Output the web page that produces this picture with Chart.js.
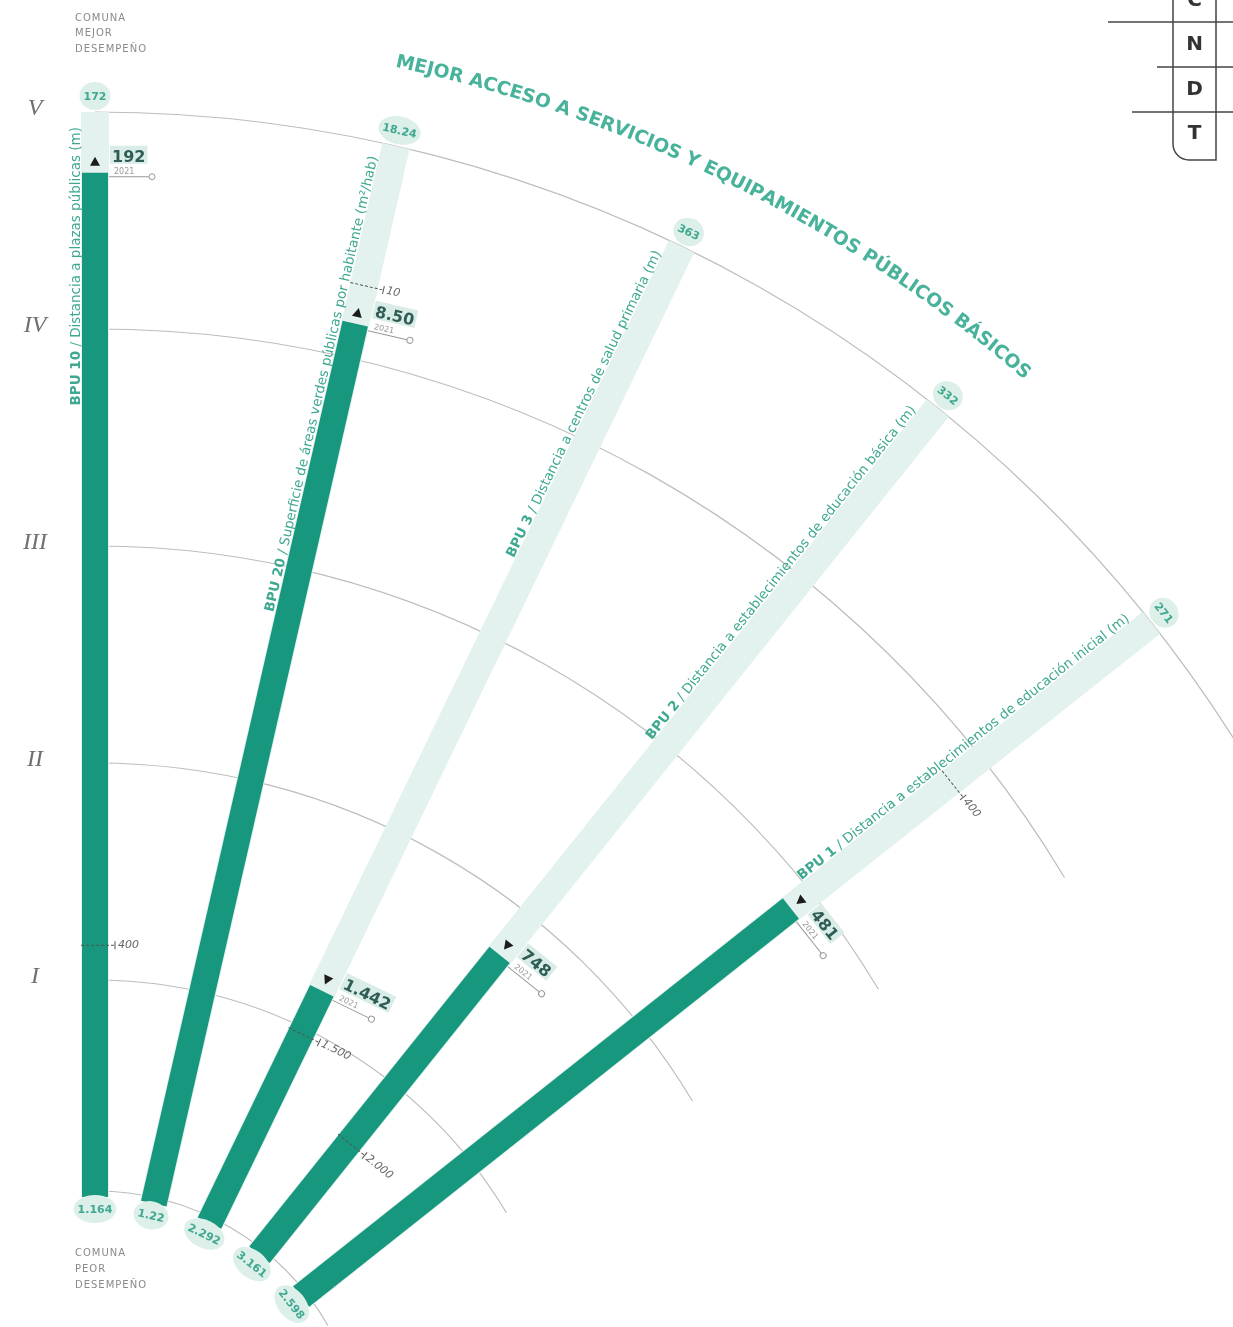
<!DOCTYPE html>
<html>
<head>
<meta charset="utf-8">
<script src="https://cdn.jsdelivr.net/npm/chart.js@4.4.0/dist/chart.umd.min.js"></script>
<style>
  html, body { margin: 0; padding: 0; background: #fff; }
  #wrap { width: 1233px; height: 1327px; position: relative; }
</style>
</head>
<body>
<div id="wrap"><canvas id="fan"></canvas></div>
<script>
// Indicators, from the vertical bar going clockwise
const codes = ['BPU 10', 'BPU 20', 'BPU 3', 'BPU 2', 'BPU 1'];
const names = [
    'Distancia a plazas públicas (m)',
    'Superficie de áreas verdes públicas por habitante (m²/hab)',
    'Distancia a centros de salud primaria (m)',
    'Distancia a establecimientos de educación básica (m)',
    'Distancia a establecimientos de educación inicial (m)'
];
const bestValues = ['172', '18.24', '363', '332', '271'];      // comuna mejor desempeño
const worstValues = ['1.164', '1.22', '2.292', '3.161', '2.598']; // comuna peor desempeño
const values2021 = ['192', '8.50', '1.442', '748', '481'];
const scores2021 = [4.72, 4.16, 1.19, 1.77, 2.88];   // position on the I..V scale (0 = worst, 5 = best)
const trend = ['up', 'up', 'down', 'down', 'down'];
const tickLabels = ['400', '10', '1.500', '2.000', '400'];
const tickScores = [1.16, 4.34, 0.97, 0.66, 3.82];
const levelLabels = ['I', 'II', 'III', 'IV', 'V'];
const legendLetters = ['C', 'N', 'D', 'T'];
const title = 'MEJOR ACCESO A SERVICIOS Y EQUIPAMIENTOS PÚBLICOS BÁSICOS';

// fan geometry (units = px, centre of the fan below the page)
const R_BASE = 263;
const R_STEP = 217;
const LEVELS = 5;
const A_START = 90;
const A_STEP = 12.9;
const A_END = 31;

const TEAL = '#17977d';
const TRACK = '#e3f2ee';
const LABEL = '#3fa891';

const angleOf = i => A_START - i * A_STEP;
const radiusOf = s => R_BASE + s * R_STEP;

function polar(s, i, extra = 0) {
    const a = angleOf(i) * Math.PI / 180;
    const r = radiusOf(s) + extra;
    return { x: r * Math.cos(a), y: r * Math.sin(a) };
}

function toPx(chart, p) {
    return { x: chart.scales.x.getPixelForValue(p.x), y: chart.scales.y.getPixelForValue(p.y) };
}

function inFrame(ctx, pt, rotDeg, fn) {
    ctx.save();
    ctx.translate(pt.x, pt.y);
    ctx.rotate(rotDeg * Math.PI / 180);
    fn();
    ctx.restore();
}

function blob(ctx, text, font, color) {
    ctx.font = font;
    const w = ctx.measureText(text).width;
    ctx.fillStyle = '#dcefe9';
    ctx.beginPath();
    ctx.ellipse(0, 0, Math.max(15, w / 2 + 4), 14, 0, 0, Math.PI * 2);
    ctx.fill();
    ctx.fillStyle = color;
    ctx.textAlign = 'center';
    ctx.textBaseline = 'middle';
    ctx.fillText(text, 0, 1);
}

const fanPlugin = {
    id: 'fan',
    beforeDatasetsDraw(chart) {
        const ctx = chart.ctx;
        const c = toPx(chart, { x: 0, y: 0 });
        const px = r => chart.scales.x.getPixelForValue(r) - chart.scales.x.getPixelForValue(0);
        ctx.save();
        ctx.strokeStyle = '#bdbdbd';
        ctx.lineWidth = 1.2;
        // level arcs I..V
        for (let k = 1; k <= LEVELS; k++) {
            ctx.beginPath();
            ctx.arc(c.x, c.y, px(radiusOf(k)), -Math.PI / 2, -A_END * Math.PI / 180);
            ctx.stroke();
        }
        // base arc (worst)
        ctx.beginPath();
        ctx.arc(c.x, c.y, px(R_BASE + 6), -Math.PI / 2, -30 * Math.PI / 180);
        ctx.stroke();

        // roman numerals
        ctx.fillStyle = '#707070';
        ctx.font = 'italic 24px "Liberation Serif"';
        ctx.textAlign = 'center';
        ctx.textBaseline = 'middle';
        levelLabels.forEach((t, k) => {
            const p = toPx(chart, polar(k + 1, 0));
            ctx.fillText(t, p.x - 60, p.y - 3);
        });
        ctx.restore();
    },
    afterDatasetsDraw(chart) {
        const ctx = chart.ctx;
        ctx.save();

        codes.forEach((code, i) => {
            const th = angleOf(i);

            // indicator name along the bar
            inFrame(ctx, toPx(chart, polar(LEVELS, i)), -th, () => {
                ctx.textBaseline = 'middle';
                ctx.textAlign = 'right';
                ctx.fillStyle = LABEL;
                ctx.font = '13.5px "DejaVu Sans"';
                const rest = ' / ' + names[i];
                const wRest = ctx.measureText(rest).width;
                ctx.fillText(rest, -15, -19);
                ctx.font = 'bold 13.5px "DejaVu Sans"';
                ctx.fillText(code, -15 - wRest, -19);
            });

            // best value on top, worst value at the base
            inFrame(ctx, toPx(chart, polar(LEVELS, i, 16)), 90 - th, () => {
                blob(ctx, bestValues[i], 'bold 11px "DejaVu Sans"', LABEL);
            });
            inFrame(ctx, toPx(chart, polar(0, i, -12)), 90 - th, () => {
                blob(ctx, worstValues[i], 'bold 11px "DejaVu Sans"', LABEL);
            });

            // reference tick
            inFrame(ctx, toPx(chart, polar(tickScores[i], i)), 90 - th, () => {
                ctx.strokeStyle = '#555';
                ctx.lineWidth = 1;
                ctx.setLineDash([3, 2]);
                ctx.beginPath();
                ctx.moveTo(-14, 0);
                ctx.lineTo(19, 0);
                ctx.stroke();
                ctx.setLineDash([]);
                ctx.beginPath();
                ctx.moveTo(20, -4);
                ctx.lineTo(20, 4);
                ctx.stroke();
                ctx.font = 'italic 11px "DejaVu Sans"';
                ctx.fillStyle = '#666';
                ctx.textAlign = 'left';
                ctx.textBaseline = 'middle';
                ctx.fillText(tickLabels[i], 23, 0);
            });

            // 2021 value
            inFrame(ctx, toPx(chart, polar(scores2021[i], i)), 90 - th, () => {
                ctx.fillStyle = '#1c1c1c';
                ctx.beginPath();
                if (trend[i] === 'up') {
                    ctx.moveTo(0, -16); ctx.lineTo(-5, -7); ctx.lineTo(5, -7);
                } else {
                    ctx.moveTo(0, -7); ctx.lineTo(-5, -16); ctx.lineTo(5, -16);
                }
                ctx.fill();

                ctx.strokeStyle = '#999';
                ctx.lineWidth = 1;
                ctx.beginPath();
                ctx.moveTo(14, 4);
                ctx.lineTo(54, 4);
                ctx.stroke();
                ctx.beginPath();
                ctx.arc(57, 4, 3, 0, Math.PI * 2);
                ctx.stroke();

                ctx.font = 'bold 16px "DejaVu Sans"';
                const w = ctx.measureText(values2021[i]).width;
                ctx.fillStyle = '#d9ece7';
                ctx.fillRect(15, -27, w + 4, 18);
                ctx.fillStyle = '#2f5d55';
                ctx.textAlign = 'left';
                ctx.textBaseline = 'alphabetic';
                ctx.fillText(values2021[i], 17, -11);
                ctx.font = '8px "DejaVu Sans"';
                ctx.fillStyle = '#999';
                ctx.fillText('2021', 19, 1);
            });
        });

        // title along the outer arc
        const rT = radiusOf(LEVELS) + 82;
        ctx.font = 'bold 20px "DejaVu Sans"';
        const fullW = ctx.measureText(title).width;
        const span = 28.5 * Math.PI / 180 * rT;
        const size = 20 * span / fullW;
        ctx.font = 'bold ' + size.toFixed(2) + 'px "DejaVu Sans"';
        ctx.fillStyle = '#48b29b';
        ctx.textAlign = 'center';
        ctx.textBaseline = 'middle';
        let run = 0;
        const startDeg = 63.6 + (span / 2) / rT * 180 / Math.PI;
        for (const ch of title) {
            const cw = ctx.measureText(ch).width;
            const deg = startDeg - (run + cw / 2) / rT * 180 / Math.PI;
            const a = deg * Math.PI / 180;
            const p = toPx(chart, { x: rT * Math.cos(a), y: rT * Math.sin(a) });
            inFrame(ctx, p, 90 - deg, () => ctx.fillText(ch, 0, 0));
            run += cw;
        }

        // comuna labels
        const top = toPx(chart, polar(LEVELS, 0));
        const base = toPx(chart, polar(0, 0));
        ctx.font = '10px "DejaVu Sans"';
        ctx.letterSpacing = '1px';
        ctx.fillStyle = '#8a8a8a';
        ctx.textAlign = 'left';
        ctx.textBaseline = 'middle';
        ['COMUNA', 'MEJOR', 'DESEMPEÑO'].forEach((t, k) => ctx.fillText(t, top.x - 20, top.y - 94 + k * 15.5));
        ['COMUNA', 'PEOR', 'DESEMPEÑO'].forEach((t, k) => ctx.fillText(t, base.x - 20, base.y + 56 + k * 16));
        ctx.letterSpacing = '0px';

        // letter box, top right
        const W = chart.width;
        ctx.strokeStyle = '#444';
        ctx.lineWidth = 1.5;
        [[22, 1108], [67, 1157], [112, 1132]].forEach(([y, x0]) => {
            ctx.beginPath();
            ctx.moveTo(x0, y);
            ctx.lineTo(W, y);
            ctx.stroke();
        });
        ctx.beginPath();
        ctx.moveTo(1173, -5);
        ctx.lineTo(1173, 144);
        ctx.arcTo(1173, 160, 1189, 160, 16);
        ctx.lineTo(1216, 160);
        ctx.lineTo(1216, -5);
        ctx.stroke();
        ctx.font = 'bold 20px "DejaVu Sans"';
        ctx.fillStyle = '#333';
        ctx.textAlign = 'center';
        [1, 45, 90, 134].forEach((y, k) => ctx.fillText(legendLetters[k], 1194.5, y));

        ctx.restore();
    }
};

const fillSets = codes.map((code, i) => ({
    label: code + ' 2021',
    data: [polar(0, i), polar(scores2021[i], i)],
    showLine: true,
    borderColor: TEAL,
    borderWidth: 26,
    borderCapStyle: 'butt',
    pointRadius: 0,
    order: 1
}));

const trackSets = codes.map((code, i) => ({
    label: code,
    data: [polar(0, i), polar(LEVELS, i)],
    showLine: true,
    borderColor: TRACK,
    borderWidth: 28,
    borderCapStyle: 'butt',
    pointRadius: 0,
    order: 2
}));

new Chart(document.getElementById('fan'), {
    type: 'scatter',
    data: { datasets: [...fillSets, ...trackSets] },
    options: {
        responsive: true,
        maintainAspectRatio: false,
        animation: false,
        layout: { padding: 0 },
        scales: {
            x: { type: 'linear', min: -95, max: 1138, display: false },
            y: { type: 'linear', min: 133, max: 1460, display: false }
        },
        plugins: {
            legend: { display: false },
            tooltip: { enabled: false }
        }
    },
    plugins: [fanPlugin]
});
</script>
</body>
</html>
